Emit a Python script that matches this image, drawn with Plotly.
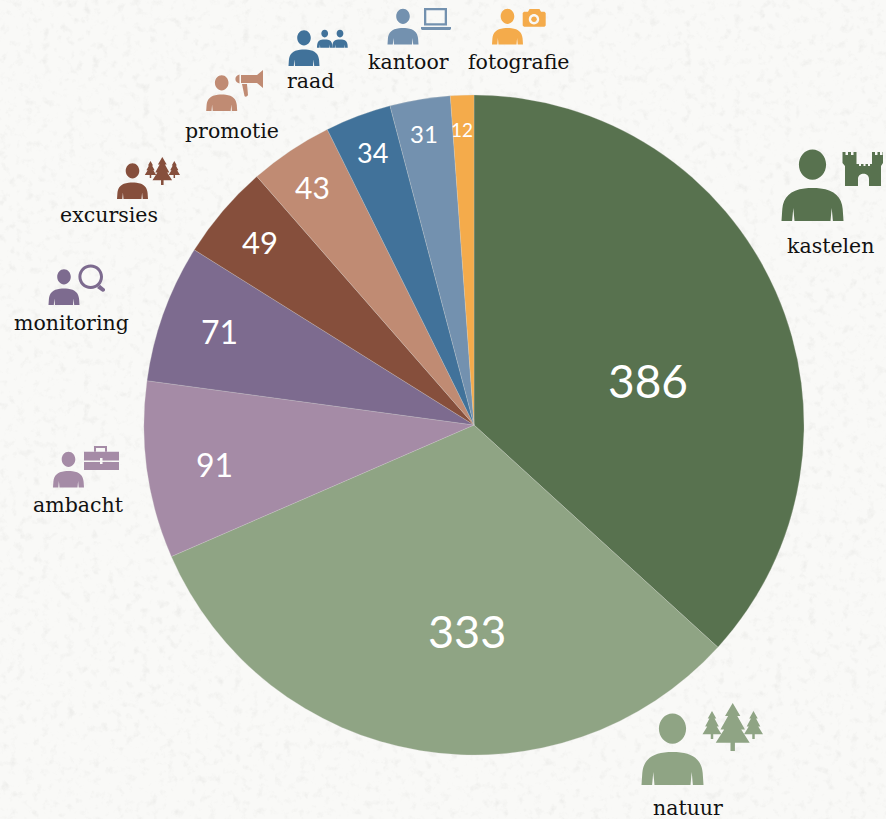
import base64
import plotly.graph_objects as go

categories = ["kastelen", "natuur", "ambacht", "monitoring", "excursies", "promotie", "raad", "kantoor", "fotografie"]
values = [386, 333, 91, 71, 49, 43, 34, 31, 12]
colors = ["#58724f", "#8fa484", "#a58ba6", "#7d6b8f", "#864f3c", "#c08b73", "#41729a", "#7391af", "#f4ab4b"]

W, H = 886, 819
BG = "#f9f9f7"
SERIF = "DejaVu Serif"
SANS = "Lato"

value_pos = [(648, 380), (467, 631), (214, 464), (219, 331), (260, 242), (312, 187), (372, 152), (424, 134), (462, 129)]
value_size = [46, 45, 32, 32, 31, 30, 27, 24, 19]
label_pos = [(830, 246), (688, 808), (78.5, 505), (71.5, 323), (108.5, 215), (232.5, 131), (310, 81), (408, 62), (518, 62)]
person_pos = [(812.5, 221, 2), (672.5, 785, 2), (68.5, 487.5, 1), (64, 305, 1), (132.5, 199, 1), (221.7, 111, 1), (304, 66, 1), (403, 44.5, 1), (507.5, 44.5, 1)]


def X(px):
    return px / W


def Y(py):
    return 1 - py / H


def build(cmds, ox=0.0, oy=0.0, s=1.0):
    out = []
    for c in cmds:
        letter, pts = c[0], c[1:]
        parts = []
        for i in range(0, len(pts), 2):
            parts.append(f"{X(ox + pts[i] * s):.5f},{Y(oy + pts[i + 1] * s):.5f}")
        out.append(letter + " ".join(parts))
    return " ".join(out)


def ell(cx, cy, rx, ry, cw=True):
    k = 0.5523
    sy = 1 if cw else -1
    return [
        ("M", cx + rx, cy),
        ("C", cx + rx, cy + sy * k * ry, cx + k * rx, cy + sy * ry, cx, cy + sy * ry),
        ("C", cx - k * rx, cy + sy * ry, cx - rx, cy + sy * k * ry, cx - rx, cy),
        ("C", cx - rx, cy - sy * k * ry, cx - k * rx, cy - sy * ry, cx, cy - sy * ry),
        ("C", cx + k * rx, cy - sy * ry, cx + rx, cy - sy * k * ry, cx + rx, cy),
        ("Z",),
    ]


def rect(x0, y0, x1, y1, cw=True):
    if cw:
        return [("M", x0, y0), ("L", x1, y0), ("L", x1, y1), ("L", x0, y1), ("Z",)]
    return [("M", x0, y0), ("L", x0, y1), ("L", x1, y1), ("L", x1, y0), ("Z",)]


shapes = []


def add(cmds, color, ox=0.0, oy=0.0, s=1.0):
    shapes.append(dict(type="path", xref="paper", yref="paper", path=build(cmds, ox, oy, s),
                       fillcolor=color, line=dict(width=0), layer="above"))


PERSON = ell(0, -28.2, 6.8, 7.6) + [
    ("M", -15.5, 0), ("L", -15.1, -6),
    ("C", -14.6, -12, -11, -15.5, -4, -16.3),
    ("C", -1.5, -16.6, 1.5, -16.6, 4, -16.3),
    ("C", 11, -15.5, 14.6, -12, 15.1, -6),
    ("L", 15.5, 0), ("L", 10.2, 0), ("L", 9.6, -6.5), ("L", 9.0, 0),
    ("L", -9.0, 0), ("L", -9.6, -6.5), ("L", -10.2, 0), ("Z",),
]


def person(cx, by, s, color):
    add(PERSON, color, cx, by, s)


def tree(cx, top, bottom, hw, color):
    h = bottom - top
    cmds = [
        ("M", 0, 0), ("L", 0.45, 0.27), ("L", 0.27, 0.27), ("L", 0.72, 0.55), ("L", 0.5, 0.55),
        ("L", 1, 0.83), ("L", 0.13, 0.83), ("L", 0.13, 1), ("L", -0.13, 1), ("L", -0.13, 0.83),
        ("L", -1, 0.83), ("L", -0.5, 0.55), ("L", -0.72, 0.55), ("L", -0.27, 0.27), ("L", -0.45, 0.27), ("Z",),
    ]
    path = []
    for c in cmds:
        if len(c) == 1:
            path.append(c)
        else:
            path.append((c[0], cx + c[1] * hw, top + c[2] * h))
    add(path, color)


for (px, py, s), col in zip(person_pos, colors):
    person(px, py, s, col)

# kastelen: castle
c = colors[0]
castle = [
    ("M", 842.5, 152), ("L", 845.5, 152), ("L", 845.5, 155), ("L", 848, 155), ("L", 848, 152), ("L", 851, 152),
    ("L", 851, 155), ("L", 853.5, 155), ("L", 853.5, 152), ("L", 856.5, 152), ("L", 856.5, 164),
    ("L", 859, 164), ("L", 859, 166), ("L", 861, 166), ("L", 861, 164), ("L", 863.5, 164), ("L", 863.5, 166),
    ("L", 865.5, 166), ("L", 865.5, 164), ("L", 868, 164), ("L", 868, 166), ("L", 870, 166), ("L", 870, 164),
    ("L", 872, 164), ("L", 872, 152), ("L", 875, 152), ("L", 875, 155), ("L", 877.5, 155), ("L", 877.5, 152),
    ("L", 880, 152), ("L", 880, 155), ("L", 882.5, 155), ("L", 882.5, 152), ("L", 883, 152), ("L", 883, 163),
    ("L", 881, 166), ("L", 881, 186), ("L", 869, 186), ("L", 869, 179),
    ("C", 869, 172, 858, 172, 858, 179), ("L", 858, 186), ("L", 845, 186), ("L", 845, 166), ("L", 842.5, 163), ("Z",),
]
add(castle, c)

# natuur: trees
c = colors[1]
tree(712, 711, 739, 9.5, c)
tree(753.5, 711, 739, 9.5, c)
tree(732.7, 703, 751, 17, c)

# ambacht: briefcase
c = colors[2]
add(rect(84, 451.7, 119, 460.5) + rect(84, 462, 119, 470), c)
add([("M", 94, 451.7), ("L", 94, 446), ("L", 107, 446), ("L", 107, 451.7), ("L", 105, 451.7), ("L", 105, 448),
     ("L", 96, 448), ("L", 96, 451.7), ("Z",)], c)
add(rect(100, 458, 102.5, 464), BG)

# monitoring: magnifier
c = colors[3]
add(ell(90.7, 276.7, 12.3, 12.3, True) + ell(90.7, 276.7, 9.3, 9.3, False), c)
add([("M", 97, 288), ("L", 100, 284.8), ("L", 105, 289), ("C", 105.5, 291.5, 103.5, 292, 102, 291.5), ("Z",)], c)

# excursies: trees
c = colors[4]
tree(150.5, 161, 178, 5.7, c)
tree(174.3, 161, 178, 5.7, c)
tree(162.3, 157, 185, 9.8, c)

# promotie: megaphone
c = colors[5]
add([("M", 241, 75), ("L", 257, 75), ("L", 263, 70), ("L", 263, 88), ("L", 257, 83), ("L", 241, 83), ("Z",)], c)
add([("M", 239.5, 74.5), ("C", 234, 76, 234, 82, 239.5, 83.5), ("Z",)], c)
add([("M", 242, 84), ("L", 247, 84), ("L", 248, 95), ("C", 247, 97, 245, 97, 244.5, 96), ("Z",)], c)

# raad: two small persons
c = colors[6]
person(324.7, 47.7, 0.5, c)
person(340, 47.7, 0.5, c)

# kantoor: laptop
c = colors[7]
add(rect(424, 8, 447, 25.5) + rect(426.3, 10.3, 444.7, 23.2, False), c)
add([("M", 421, 27), ("L", 451, 27), ("L", 451, 29), ("L", 450, 30), ("L", 422, 30), ("L", 421, 29), ("Z",)], c)

# fotografie: camera
c = colors[8]
add([("M", 524, 11.7), ("L", 528, 11.7), ("L", 529.5, 9), ("L", 539.5, 9), ("L", 541, 11.7), ("L", 544.5, 11.7),
     ("L", 545.7, 13), ("L", 545.7, 25.5), ("L", 544.5, 26.7), ("L", 524, 26.7), ("L", 522.7, 25.5), ("L", 522.7, 13), ("Z",)]
    + ell(534, 19.3, 5.2, 5.2, False), c)
add(ell(534, 19.3, 2.8, 2.8), c)

annotations = []
for cat, (x, y) in zip(categories, label_pos):
    annotations.append(dict(text=cat, x=X(x), y=Y(y), xref="paper", yref="paper", showarrow=False,
                            xanchor="center", yanchor="middle",
                            font=dict(family=SERIF, size=20.5, color="#111111")))
for v, (x, y), sz in zip(values, value_pos, value_size):
    annotations.append(dict(text=str(v), x=X(x), y=Y(y), xref="paper", yref="paper", showarrow=False,
                            xanchor="center", yanchor="middle",
                            font=dict(family=SANS, size=sz, color="#ffffff")))

svg = f"""<svg xmlns='http://www.w3.org/2000/svg' width='{W}' height='{H}'>
<filter id='a' x='0' y='0' width='100%' height='100%'><feTurbulence type='fractalNoise' baseFrequency='0.12' numOctaves='4' seed='7'/>
<feColorMatrix values='0 0 0 0 0.6 0 0 0 0 0.6 0 0 0 0 0.58 2 2 0 0 -2.1'/></filter>
<rect width='100%' height='100%' fill='{BG}'/><rect width='100%' height='100%' filter='url(#a)' opacity='0.22'/></svg>"""
texture = "data:image/svg+xml;base64," + base64.b64encode(svg.encode()).decode()

fig = go.Figure(go.Pie(
    labels=categories, values=values, sort=False, direction="clockwise", rotation=0,
    textinfo="none", hoverinfo="label+value",
    marker=dict(colors=colors, line=dict(color="#d8d8d2", width=0.25)),
    domain=dict(x=[144 / W, 804 / W], y=[1 - 755 / H, 1 - 95 / H]),
    showlegend=False,
))
fig.update_layout(
    width=W, height=H, margin=dict(l=0, r=0, t=0, b=0), autosize=False,
    paper_bgcolor=BG, plot_bgcolor=BG, showlegend=False,
    shapes=shapes, annotations=annotations,
    images=[dict(source=texture, xref="paper", yref="paper", x=0, y=1, sizex=1, sizey=1,
                 xanchor="left", yanchor="top", sizing="stretch", layer="below")],
)
fig.write_html("out.html", config=dict(displayModeBar=False),
               post_script="document.body.style.margin='0';document.documentElement.style.overflow='hidden';")
